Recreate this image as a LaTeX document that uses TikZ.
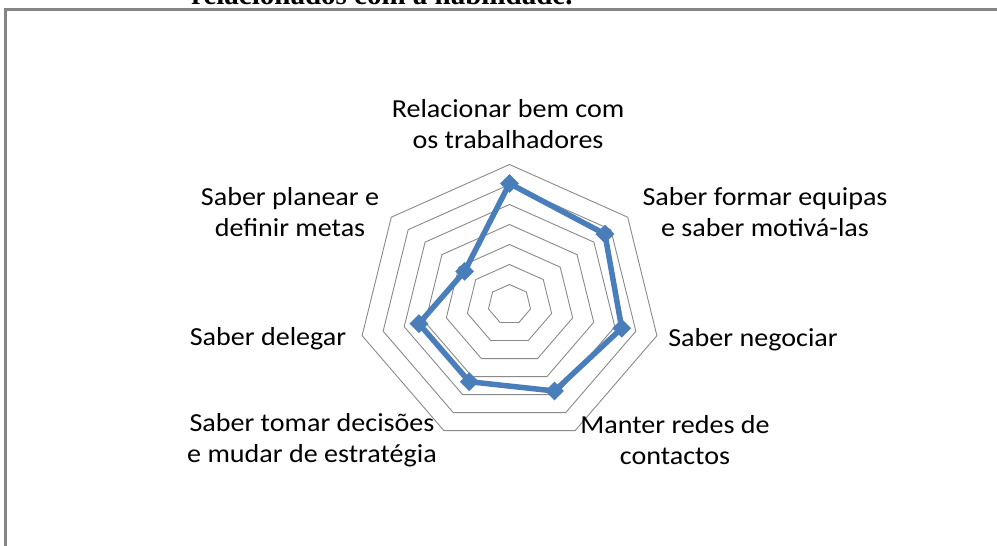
\documentclass[tikz,border=0pt]{standalone}
\usepackage{fontspec}
\setmainfont{Carlito}
\newfontfamily\topserif{Liberation Serif}
\usetikzlibrary{shapes.geometric}
\definecolor{series}{HTML}{4A7EBB}
\definecolor{gridgray}{HTML}{8A8A8A}
\definecolor{framegray}{HTML}{858585}
\begin{document}
\begin{tikzpicture}[x=1pt,y=-1pt,
  lab/.style={font=\fontsize{26}{31.5}\selectfont, align=center, xscale=1.08, inner sep=0pt, text=black},
  ring/.style={draw=gridgray, line width=0.9pt, line join=miter},
  serie/.style={draw=series, line width=5.5pt, line join=round},
  mk/.style={diamond, fill=series, minimum size=19pt, inner sep=0pt},
]
\useasboundingbox (0,0) rectangle (997,546);
\fill[white] (0,0) rectangle (997,546);
\begin{scope}
\clip (0,0) rectangle (997,546);
\node[anchor=base west, font=\topserif\bfseries\fontsize{29}{34}\selectfont, inner sep=0pt] (head) at (191,5) {relacionados com a habilidade.};
\end{scope}
\draw[framegray, line width=3pt] (5,546) -- (5,9.5) -- (997,9.5);

\begin{scope}[shift={(509.5,304.5)}, x=1.08pt, y=1pt]
  \foreach \i in {1,...,7} {
    \draw[ring] (90:{20*\i}) \foreach \k in {1,...,6} { -- ({90-\k*360/7}:{20*\i}) } -- cycle;
  }
  \coordinate (p1) at (90:121);
  \coordinate (p2) at ({90-1*360/7}:113);
  \coordinate (p3) at ({90-2*360/7}:106.6);
  \coordinate (p4) at ({90-3*360/7}:96);
  \coordinate (p5) at ({90-4*360/7}:85.7);
  \coordinate (p6) at ({90-5*360/7}:86);
  \coordinate (p7) at ({90-6*360/7}:53.2);
  \draw[serie] (p1) -- (p2) -- (p3) -- (p4) -- (p5) -- (p6) -- (p7) -- cycle;
  \foreach \p in {1,...,7} { \node[mk] (m\p) at (p\p) {}; }
\end{scope}

\node[lab] (l1) at (508,124) {Relacionar bem com\\os trabalhadores};
\node[lab] (l2) at (765,212) {Saber formar equipas\\e saber motivá-las};
\node[lab] (l3) at (753,340) {Saber negociar};
\node[lab] (l4) at (675,440) {Manter redes de\\contactos};
\node[lab] (l5) at (312,440) {Saber tomar decisões\\e mudar de estratégia};
\node[lab] (l6) at (268,339) {Saber delegar};
\node[lab] (l7) at (290,212) {Saber planear e\\definir metas};
\end{tikzpicture}
\end{document}
